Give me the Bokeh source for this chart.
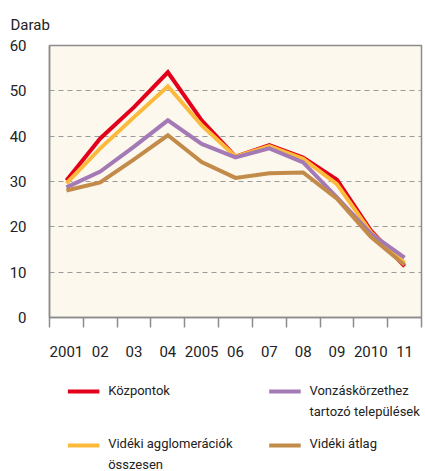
from bokeh.plotting import figure
from bokeh.models import Range1d, FixedTicker
from bokeh.layouts import column
from bokeh.core.properties import value
from bokeh.embed import file_html
from bokeh.resources import INLINE

# ---- data ----
years = ["2001", "02", "03", "04", "2005", "06", "07", "08", "09", "2010", "11"]
kozpontok = [30.2, 39.5, 46.4, 54.1, 43.5, 35.5, 38.0, 35.3, 30.4, 19.2, 11.3]
vonzas = [28.7, 32.2, 37.7, 43.5, 38.3, 35.3, 37.3, 34.2, 26.5, 18.5, 13.2]
agglo = [29.6, 37.3, 44.2, 51.0, 42.4, 35.5, 37.8, 35.0, 29.4, 18.8, 12.0]
atlag = [28.0, 29.8, 34.9, 40.2, 34.3, 30.8, 31.8, 32.0, 26.2, 17.8, 11.6]
y_ticks = [0, 10, 20, 30, 40, 50, 60]

series_names = ["Központok", "Vonzáskörzethez\ntartozó települések",
                "Vidéki agglomerációk\nösszesen", "Vidéki átlag"]
series_colors = ["#E2001A", "#A37AB5", "#FBBA3C", "#C28B4A"]

FONT = "Roboto"
GRAY = "#8c8c8c"
TXT = "#222222"

x_pos = [i + 0.5 for i in range(len(years))]

p = figure(width=425, height=368, output_backend="svg", toolbar_location=None,
           x_range=Range1d(0, len(years)), y_range=Range1d(0, 60),
           min_border_left=49, min_border_right=4, min_border_top=45,
           min_border_bottom=51)
p.background_fill_color = "#FDF8ED"
p.border_fill_color = "white"
p.outline_line_color = GRAY
p.outline_line_width = 1.5

# title used as the unit label
p.title.text = "Darab"
p.title.align = "left"
p.title.offset = -39
p.title.text_font = FONT
p.title.text_font_size = "15px"
p.title.text_font_style = "normal"
p.title.text_color = TXT
p.title.standoff = 24

# lines (draw order)
for vals, col in [(kozpontok, series_colors[0]), (agglo, series_colors[2]),
                  (vonzas, series_colors[1]), (atlag, series_colors[3])]:
    p.line(x_pos, vals, line_color=col, line_width=4, line_join="miter")

# x axis
xa = p.xaxis[0]
xa.ticker = FixedTicker(ticks=x_pos, minor_ticks=list(range(len(years) + 1)))
xa.major_label_overrides = {x: lab for x, lab in zip(x_pos, years)}
xa.major_tick_out = 0
xa.major_tick_in = 0
xa.minor_tick_out = 10
xa.minor_tick_in = 0
xa.minor_tick_line_color = GRAY
xa.minor_tick_line_width = 1.5
xa.axis_line_color = GRAY
xa.axis_line_width = 1.5
xa.major_label_text_font = FONT
xa.major_label_text_font_size = "15px"
xa.major_label_text_color = TXT
xa.major_label_standoff = 18

# y axis
ya = p.yaxis[0]
ya.ticker = FixedTicker(ticks=y_ticks)
ya.major_tick_out = 0
ya.major_tick_in = 0
ya.minor_tick_out = 0
ya.axis_line_color = GRAY
ya.axis_line_width = 1.5
ya.major_label_text_font = FONT
ya.major_label_text_font_size = "15px"
ya.major_label_text_color = TXT
ya.major_label_standoff = 23

p.xgrid.grid_line_color = None
p.ygrid.ticker = FixedTicker(ticks=y_ticks[1:-1])
p.ygrid.grid_line_color = "#9a9a9a"
p.ygrid.grid_line_dash = "5 4"
p.ygrid.grid_line_width = 1.2

# ---- legend figure ----
lg = figure(width=425, height=103, output_backend="svg", toolbar_location=None,
            x_range=Range1d(0, 425), y_range=Range1d(0, 103),
            min_border=0)
lg.outline_line_color = None
lg.background_fill_color = "white"
lg.border_fill_color = "white"
lg.axis.visible = False
lg.grid.visible = False

leg_x = [21, 251, 21, 251]
leg_y = [80, 80, 26, 26]
leg_text_top = [89, 89, 36, 36]
for i in range(4):
    lg.line([leg_x[i], leg_x[i] + 36], [leg_y[i], leg_y[i]],
            line_color=series_colors[i], line_width=4)
lg.text(x=[lx + 46 for lx in leg_x], y=leg_text_top, text=series_names,
        text_font=value(FONT), text_font_size="13px", text_color=TXT,
        text_baseline="top", text_line_height=1.45)

layout = column(p, lg, spacing=0)
open("out.html", "w").write(file_html(layout, INLINE))
